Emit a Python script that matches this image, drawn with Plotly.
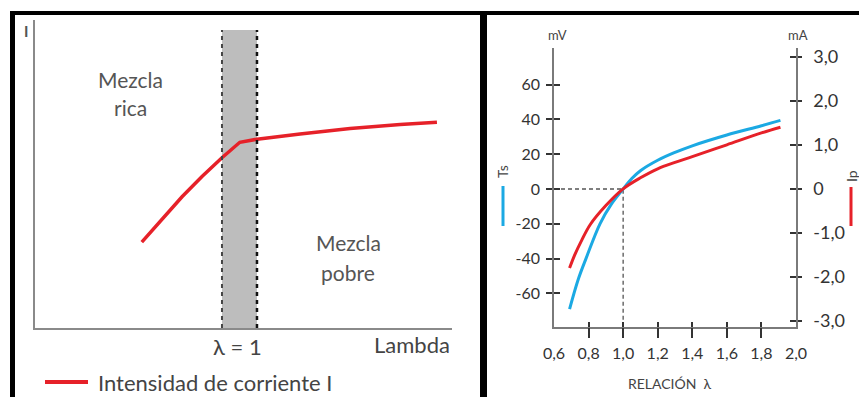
import plotly.graph_objects as go

W, H = 859, 397

# ---------------- data ----------------
# Left chart: current intensity vs lambda (arbitrary units)
LEFT_LAMBDA = [0.721, 0.779, 0.836, 0.893, 0.950, 1.001, 1.05, 1.173, 1.316, 1.459, 1.564]
LEFT_I = [0.279, 0.355, 0.426, 0.492, 0.553, 0.603, 0.613, 0.630, 0.648, 0.661, 0.668]
BAND = [0.95, 1.05]          # lambda = 1 window
LEFT_X_RANGE = [0.416, 1.607]
LEFT_Y_RANGE = [0, 1]
BAND_TOP = 0.9675

# Right chart: sensor voltage Ts (mV) and pump current Ip (mA)
TS_LAMBDA = [0.69, 0.74, 0.785, 0.866, 0.93, 1.0, 1.05, 1.1, 1.2, 1.3, 1.4, 1.6, 1.8, 1.91]
TS_MV = [-69, -52, -40, -20, -9, 0, 6, 10.5, 16.5, 21, 24.8, 31, 36.3, 39.4]
IP_LAMBDA = [0.69, 0.72, 0.76, 0.81, 0.9, 1.0, 1.1, 1.2, 1.3, 1.4, 1.6, 1.8, 1.91]
IP_MA = [-1.80, -1.50, -1.17, -0.81, -0.38, 0, 0.25, 0.455, 0.60, 0.73, 1.00, 1.27, 1.40]

X_TICKS = [0.6, 0.8, 1.0, 1.2, 1.4, 1.6, 1.8, 2.0]
X_TICK_TEXT = ["0,6", "0,8", "1,0", "1,2", "1,4", "1,6", "1,8", "2,0"]
X_MARKS = [0.8, 1.0, 1.2, 1.4, 1.6, 1.8]
MV_TICKS = [-60, -40, -20, 0, 20, 40, 60]
MV_TICK_TEXT = ["-60", "-40", "-20", "0", "20", "40", "60"]
MA_TICKS = [-3, -2, -1, 0, 1, 2, 3]
MA_TICK_TEXT = ["-3,0", "-2,0", "-1,0", "0", "1,0", "2,0", "3,0"]
MV_RANGE = [-79.3, 81]
MA_RANGE = [-3.14, 3.2]
RIGHT_X_RANGE = [0.6, 2.0]

RED = "#e62129"
BLUE = "#1ba9e3"
FONT = "Lato"


def px(x):
    return x / W


def py(y):
    return 1 - y / H


fig = go.Figure()

# left chart curve
fig.add_trace(go.Scatter(x=LEFT_LAMBDA, y=LEFT_I, mode="lines",
                         line=dict(color=RED, width=3.5), xaxis="x", yaxis="y",
                         showlegend=False, hoverinfo="skip"))

# right chart: dashed guides at lambda = 1, 0 mV
fig.add_trace(go.Scatter(x=[RIGHT_X_RANGE[0], 1.0, 1.0], y=[0, 0, MV_RANGE[0]], mode="lines",
                         line=dict(color="#555555", width=1.3, dash="4px,3px"),
                         xaxis="x2", yaxis="y2", showlegend=False, hoverinfo="skip"))
fig.add_trace(go.Scatter(x=IP_LAMBDA, y=IP_MA, mode="lines", line_shape="spline",
                         line=dict(color=RED, width=3), xaxis="x2", yaxis="y3",
                         showlegend=False, hoverinfo="skip"))
fig.add_trace(go.Scatter(x=TS_LAMBDA, y=TS_MV, mode="lines", line_shape="spline",
                         line=dict(color=BLUE, width=3), xaxis="x2", yaxis="y2",
                         showlegend=False, hoverinfo="skip"))
# dummy traces so the overlay tick axes are drawn
for xa, ya in [("x3", "y2"), ("x4", "y2"), ("x2", "y4"), ("x2", "y5")]:
    fig.add_trace(go.Scatter(x=[None], y=[None], xaxis=xa, yaxis=ya,
                             showlegend=False, hoverinfo="skip"))

AX = "#7a7a7a"
TK = "#333333"
tickfont_l = dict(family=FONT, size=16, color="#333333")
tickfont_r = dict(family=FONT, size=18, color="#333333")

RX = [px(554), px(796)]
RY = [py(327), py(48)]

common = dict(automargin=False, showgrid=False, zeroline=False)

fig.update_layout(
    width=W, height=H, margin=dict(l=0, r=0, t=0, b=0, autoexpand=False),
    paper_bgcolor="white", plot_bgcolor="white",
    xaxis=dict(domain=[px(35), px(452)], range=LEFT_X_RANGE, anchor="y",
               showline=True, linecolor="#8a8a8a", linewidth=2,
               showticklabels=False, ticks="", **common),
    yaxis=dict(domain=[py(328), py(20)], range=LEFT_Y_RANGE, anchor="x",
               showline=True, linecolor="#8a8a8a", linewidth=2,
               showticklabels=False, ticks="", **common),
    xaxis2=dict(domain=RX, range=RIGHT_X_RANGE, anchor="y2",
                showline=True, linecolor=AX, linewidth=1.5, tickmode="array",
                tickvals=X_TICKS, ticktext=X_TICK_TEXT, ticks="",
                tickfont=dict(family=FONT, size=16, color="#333333"),
                ticklabelstandoff=11, **common),
    xaxis3=dict(domain=RX, range=RIGHT_X_RANGE, anchor="y2", overlaying="x2",
                showline=False, tickmode="array",
                tickvals=X_MARKS, ticks="outside", ticklen=10, tickwidth=1.5,
                tickcolor=TK, showticklabels=False, **common),
    xaxis4=dict(domain=RX, range=RIGHT_X_RANGE, anchor="y2", overlaying="x2",
                showline=False, tickmode="array",
                tickvals=X_MARKS, ticks="inside", ticklen=5, tickwidth=1.5,
                tickcolor=TK, showticklabels=False, **common),
    yaxis2=dict(domain=RY, range=MV_RANGE, anchor="x2",
                showline=True, linecolor=AX, linewidth=1.5, tickmode="array",
                tickvals=MV_TICKS, ticktext=MV_TICK_TEXT, ticks="outside", ticklen=6,
                tickwidth=1.5, tickcolor=TK, tickfont=tickfont_l, ticklabelstandoff=3,
                **common),
    yaxis4=dict(domain=RY, range=MV_RANGE, anchor="x2", overlaying="y2", side="left",
                showline=False, tickmode="array",
                tickvals=MV_TICKS, ticks="inside", ticklen=6, tickwidth=1.5,
                tickcolor=TK, showticklabels=False, **common),
    yaxis3=dict(domain=RY, range=MA_RANGE, anchor="x2", overlaying="y2", side="right",
                showline=True, linecolor=AX, linewidth=1.5, tickmode="array",
                tickvals=MA_TICKS, ticktext=MA_TICK_TEXT, ticks="outside", ticklen=4,
                tickwidth=1.5, tickcolor=TK, tickfont=tickfont_r, ticklabelstandoff=8,
                **common),
    yaxis5=dict(domain=RY, range=MA_RANGE, anchor="x2", overlaying="y2", side="right",
                showline=False, tickmode="array",
                tickvals=MA_TICKS, ticks="inside", ticklen=6, tickwidth=1.5,
                tickcolor=TK, showticklabels=False, **common),
    showlegend=False,
)

shapes = []
# lambda = 1 band on the left chart
shapes.append(dict(type="rect", xref="x", yref="y", x0=BAND[0], x1=BAND[1], y0=0, y1=BAND_TOP,
                   fillcolor="#bdbdbd", line=dict(width=0), layer="below"))
shapes.append(dict(type="line", xref="x", yref="y", x0=BAND[0], x1=BAND[0], y0=0, y1=BAND_TOP,
                   line=dict(color="#444444", width=2, dash="4px,4px"), layer="above"))
shapes.append(dict(type="line", xref="x", yref="y", x0=BAND[1], x1=BAND[1], y0=0, y1=BAND_TOP,
                   line=dict(color="#111111", width=2.5, dash="4px,4px"), layer="above"))
# panel borders
for (x0, y0, x1, y1) in [(10, 11, 15, 397), (10, 11, 859, 15), (480, 11, 487, 397)]:
    shapes.append(dict(type="rect", xref="paper", yref="paper", x0=px(x0), x1=px(x1),
                       y0=py(y1), y1=py(y0), fillcolor="black", line=dict(width=0)))
# legend keys
shapes.append(dict(type="line", xref="paper", yref="paper", x0=px(45), x1=px(88),
                   y0=py(382), y1=py(382), line=dict(color=RED, width=4)))
shapes.append(dict(type="line", xref="paper", yref="paper", x0=px(503), x1=px(503),
                   y0=py(226), y1=py(186), line=dict(color=BLUE, width=3)))
shapes.append(dict(type="line", xref="paper", yref="paper", x0=px(851), x1=px(851),
                   y0=py(226), y1=py(187), line=dict(color=RED, width=3)))
fig.update_layout(shapes=shapes)


def ann(text, x, y, size, color="#555555", xanchor="center", angle=0):
    fig.add_annotation(text=text, x=px(x), y=py(y), xref="paper", yref="paper",
                       xanchor=xanchor, yanchor="middle", showarrow=False, textangle=angle,
                       font=dict(family=FONT, size=size, color=color))


ann("<b>I</b>", 26, 31, 15, "#555555")
ann("Mezcla", 130, 79, 21)
ann("rica", 130, 107, 21)
ann("Mezcla", 348, 243, 21)
ann("pobre", 348, 272, 21)
ann("λ = 1", 238, 346, 22, "#444444")
ann("Lambda", 452, 344, 22, "#444444", xanchor="right")
ann("Intensidad de corriente I", 96, 382, 22, "#444444", xanchor="left")

ann("mV", 557, 35, 13, "#444444")
ann("mA", 798, 35, 13, "#444444")
ann("RELACIÓN  λ", 670, 383, 14, "#444444")
ann("Ts", 503, 171, 14, "#444444", angle=-90)
ann("Ip", 851, 176, 14, "#444444", angle=-90)

fig.write_html("out.html")
